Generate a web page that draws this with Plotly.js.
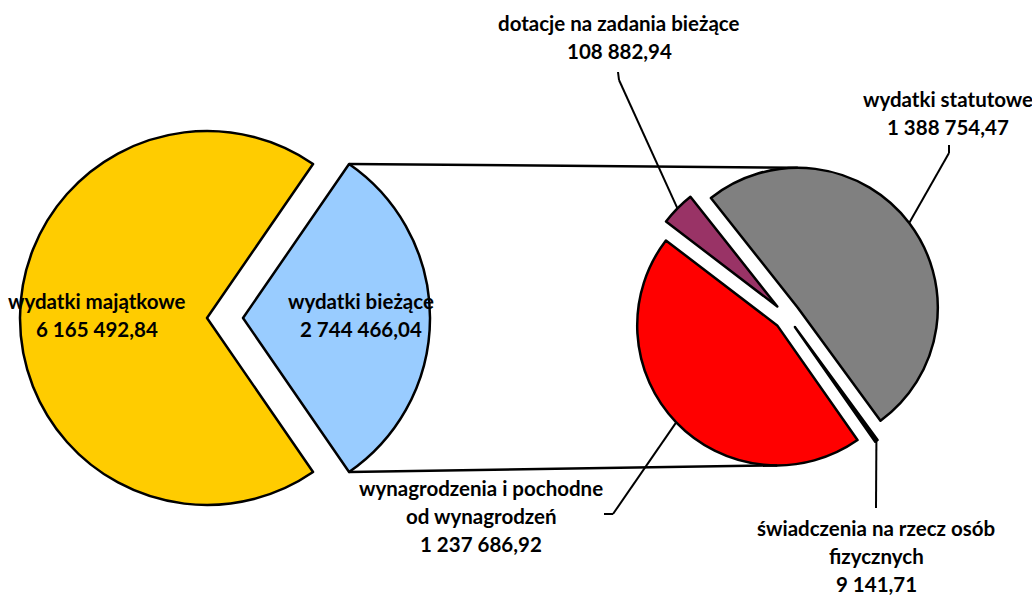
<!DOCTYPE html>
<html><head><meta charset="utf-8">
<script src="https://cdn.plot.ly/plotly-3.0.1.min.js"></script>
<style>html,body{margin:0;padding:0;background:#fff;overflow:hidden}#chart{width:1032px;height:597px}</style>
</head><body><div id="chart"></div>
<script>
// ---- data ----
const mainCategories = ['wydatki majątkowe', 'wydatki bieżące'];
const mainValues = [6165492.84, 2744466.04];
const subCategories = ['wynagrodzenia i pochodne od wynagrodzeń', 'dotacje na zadania bieżące', 'wydatki statutowe', 'świadczenia na rzecz osób fizycznych'];
const subValues = [1237686.92, 108882.94, 1388754.47, 9141.71];
const mainLabelLines = [['wydatki majątkowe'], ['wydatki bieżące']];
const subLabelLines = [['wynagrodzenia i pochodne', 'od wynagrodzeń'], ['dotacje na zadania bieżące'], ['wydatki statutowe'], ['świadczenia na rzecz osób', 'fizycznych']];

// ---- styles / layout ----
const W = 1032, H = 597;
const mainColors = ['#FFCC00', '#99CCFF'];
const subColors = ['#FF0000', '#993366', '#808080', '#000000'];
const FONT = {family: 'Lato, "Open Sans", sans-serif', size: 20.5, color: '#000'};
const LH = 28;

function fmt(v) {
  const parts = v.toFixed(2).split('.');
  return parts[0].replace(/\B(?=(\d{3})+(?!\d))/g, ' ') + ',' + parts[1];
}
const px = x => x / W, py = y => 1 - y / H;
const rad = d => d * Math.PI / 180;
const dirv = d => [Math.sin(rad(d)), -Math.cos(rad(d))];

// left pie geometry
const CL = {x: 225, y: 318}, RL = 187, pullL = 0.0963;
const mainTotal = mainValues.reduce((a, b) => a + b, 0);
const bf = mainValues[1] / mainTotal;
const rotL = 90 + 180 * bf;
const boxL = RL * (1 + pullL);

// right pie geometry
const CR = {x: 787, y: 316}, RR = 140, pullR = 0.097;
const rotR = 145;
const boxR = RR * (1 + pullR);
const subTotal = subValues.reduce((a, b) => a + b, 0);

// slice bisectors of right pie (clockwise from top)
const subMid = [];
let acc = rotR;
subValues.forEach(v => { const span = 360 * v / subTotal; subMid.push(acc + span / 2); acc += span; });
const subApex = subMid.map(m => { const d = dirv(m); return [CR.x + pullR * RR * d[0], CR.y + pullR * RR * d[1]]; });
const subOuter = subMid.map((m, i) => { const d = dirv(m); return [subApex[i][0] + RR * d[0], subApex[i][1] + RR * d[1]]; });

// connectors from the blue slice to the second pie
const blueApex = [CL.x + pullL * RL, CL.y];
const dTop = dirv(90 - 180 * bf), dBot = dirv(90 + 180 * bf);
const blueTop = [blueApex[0] + RL * dTop[0], blueApex[1] + RL * dTop[1]];
const blueBot = [blueApex[0] + RL * dBot[0], blueApex[1] + RL * dBot[1]];
const grayTop = [subApex[2][0], subApex[2][1] - RR];
const redBot = [subApex[0][0], subApex[0][1] + RR];

function line(a, b, w) {
  return {type: 'line', xref: 'paper', yref: 'paper', x0: px(a[0]), y0: py(a[1]), x1: px(b[0]), y1: py(b[1]),
          line: {color: '#000', width: w || 2}};
}
const shapes = [
  line(blueTop, grayTop, 2.5),
  line(blueBot, redBot, 2.5),
  // leader lines: label elbow -> slice
  line([618, 72], [619, 80]), line([619, 80], subOuter[1]),
  line([949, 145], [949, 153]), line([949, 153], subOuter[2]),
  line([604, 514], [613, 514]), line([613, 514], subOuter[0]),
  line([876, 508], subOuter[3])
];

// label positions (centre x, first line centre y)
const mainLabelPos = [[97, 301], [361, 301]];
const subLabelPos = [[481, 488], [619, 23], [948, 99], [876, 528]];

const annotations = [];
function addLabel(lines, value, pos) {
  const all = lines.concat([fmt(value)]);
  all.forEach((t, k) => annotations.push({
    xref: 'paper', yref: 'paper', x: px(pos[0]), y: py(pos[1] + k * LH),
    xanchor: 'center', yanchor: 'middle', showarrow: false,
    text: '<b>' + t + '</b>', font: FONT
  }));
}
mainLabelLines.forEach((l, i) => addLabel(l, mainValues[i], mainLabelPos[i]));
subLabelLines.forEach((l, i) => addLabel(l, subValues[i], subLabelPos[i]));

const traces = [
  {type: 'pie', labels: mainCategories, values: mainValues, sort: false, direction: 'clockwise',
   rotation: rotL, pull: mainValues.map(() => pullL), textinfo: 'none', hoverinfo: 'label+value',
   marker: {colors: mainColors, line: {color: '#000', width: 2.5}}, showlegend: false,
   domain: {x: [px(CL.x - boxL), px(CL.x + boxL)], y: [py(CL.y + 250), py(CL.y - 250)]}},
  {type: 'pie', labels: subCategories, values: subValues, sort: false, direction: 'clockwise',
   rotation: rotR, pull: subValues.map(() => pullR), textinfo: 'none', hoverinfo: 'label+value',
   marker: {colors: subColors, line: {color: '#000', width: 2.5}}, showlegend: false,
   domain: {x: [px(CR.x - boxR), px(CR.x + boxR)], y: [py(CR.y + 250), py(CR.y - 250)]}}
];

Plotly.newPlot('chart', traces, {
  width: W, height: H, margin: {l: 0, r: 0, t: 0, b: 0},
  paper_bgcolor: '#fff', plot_bgcolor: '#fff', showlegend: false,
  shapes: shapes, annotations: annotations
}, {displayModeBar: false, staticPlot: true});
</script></body></html>
